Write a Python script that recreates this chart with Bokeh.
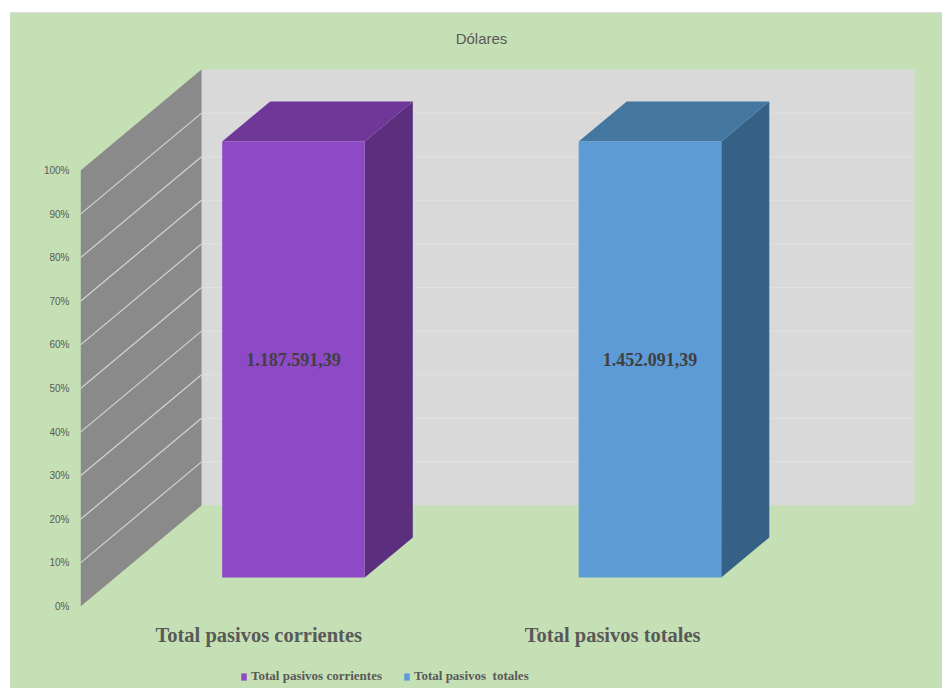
from bokeh.plotting import figure
from bokeh.models import Range1d, FixedTicker, NumeralTickFormatter, Legend, LegendItem
from bokeh.core.properties import value
from bokeh.embed import file_html
from bokeh.resources import INLINE

# ---------------- data ----------------
categories = ["Total pasivos corrientes", "Total pasivos  totales"]
shares = [1.0, 1.0]
amount_labels = ["1.187.591,39", "1.452.091,39"]
tick_values = [0.0, 0.1, 0.2, 0.3, 0.4, 0.5, 0.6, 0.7, 0.8, 0.9, 1.0]
title_text = "Dólares"

# ---------------- style ----------------
front_colors = ["#8e4ac6", "#5c9bd6"]
top_colors = ["#6f3798", "#44779f"]
side_colors = ["#5c2f7e", "#366186"]
GREEN = "#c5e0b4"
BACK_WALL = "#d9d9d9"
SIDE_WALL = "#8a8a8a"
TEXT_GREY = "#595959"

W, H = 932, 676
FRAME_LEFT = 70
PX_X = 356.5          # pixels per category
PX_Y = 436.0          # pixels per 100 %
Y0 = 593.0            # canvas y of the 0 % front line
DX = 121.0 / PX_X     # depth offset (x) in data units
DY = 101.0 / PX_Y     # depth offset (y) in data units
BAR_W = 0.4
D1, D2 = 0.287, 0.684  # bar depth (fraction of floor depth)

n = len(categories)
x_range = Range1d(0, (W - FRAME_LEFT) / PX_X)
y_range = Range1d(-(H - Y0) / PX_Y, Y0 / PX_Y)

p = figure(width=W, height=H, x_range=x_range, y_range=y_range,
           output_backend="svg", toolbar_location=None,
           x_axis_location=None, y_axis_location="left",
           min_border_left=FRAME_LEFT, min_border_right=0,
           min_border_top=0, min_border_bottom=0,
           background_fill_color=None, border_fill_color=None,
           outline_line_color=None, margin=(12, 0, 0, 10))
p.styles = {"background-color": GREEN, "border-top": "1px solid #dcdcdc"}
p.xgrid.visible = False
p.ygrid.visible = False

ax = p.yaxis[0]
ax.ticker = FixedTicker(ticks=tick_values)
ax.formatter = NumeralTickFormatter(format="0%")
ax.axis_line_color = None
ax.major_tick_line_color = None
ax.minor_tick_line_color = None
ax.major_tick_out = 0
ax.major_tick_in = 0
ax.major_label_standoff = 11
ax.major_label_text_font = "Liberation Sans"
ax.major_label_text_font_size = "10px"
ax.major_label_text_color = TEXT_GREY

lo, hi = tick_values[0], tick_values[-1]

# back wall
p.quad(left=[DX], right=[n + DX], bottom=[lo + DY], top=[hi + DY],
       fill_color=BACK_WALL, line_color=None)
p.segment(x0=[DX] * (len(tick_values) - 2), y0=[t + DY for t in tick_values[1:-1]],
          x1=[n + DX] * (len(tick_values) - 2), y1=[t + DY for t in tick_values[1:-1]],
          line_color="#e1e1e1", line_width=1)

# side wall
p.patch(x=[0, 0, DX, DX], y=[lo, hi, hi + DY, lo + DY],
        fill_color=SIDE_WALL, line_color=None)
p.segment(x0=[0] * (len(tick_values) - 2), y0=tick_values[1:-1],
          x1=[DX] * (len(tick_values) - 2), y1=[t + DY for t in tick_values[1:-1]],
          line_color="#d4d4d4", line_width=1.2)

# bars
front_renderers = []
for i in range(n):
    c = i + 0.5
    v = shares[i]
    l1, r1 = c - BAR_W / 2 + D1 * DX, c + BAR_W / 2 + D1 * DX
    l2, r2 = c - BAR_W / 2 + D2 * DX, c + BAR_W / 2 + D2 * DX
    b1, t1 = D1 * DY, v + D1 * DY
    b2, t2 = D2 * DY, v + D2 * DY
    # side face
    p.patch(x=[r1, r2, r2, r1], y=[b1, b2, t2, t1],
            fill_color=side_colors[i], line_color=None)
    # top face
    p.patch(x=[l1, l2, r2, r1], y=[t1, t2, t2, t1],
            fill_color=top_colors[i], line_color=None)
    # front face
    fr = p.quad(left=[l1], right=[r1], bottom=[b1], top=[t1],
                fill_color=front_colors[i], line_color=None)
    front_renderers.append(fr)

# value labels
p.text(x=[i + 0.5 + D1 * DX for i in range(n)],
       y=[shares[i] / 2 + D1 * DY for i in range(n)],
       text=amount_labels, text_font=value("Liberation Serif"),
       text_font_style="bold", text_font_size="18px",
       text_align="center", text_baseline="middle", text_color="#404040")

# category labels
p.text(x=[i + 0.5 for i in range(n)], y=[-28.0 / PX_Y] * n, text=categories,
       text_font=value("Liberation Serif"), text_font_style="bold",
       text_font_size="20.5px", text_align="center", text_baseline="middle",
       text_color=TEXT_GREY)

# title
p.text(x=[(471.0 - FRAME_LEFT) / PX_X], y=[(Y0 - 25.0) / PX_Y], text=[title_text],
       text_font=value("Liberation Sans"), text_font_size="15px",
       text_align="center", text_baseline="middle", text_color=TEXT_GREY)

legend = Legend(items=[LegendItem(label=categories[i], renderers=[front_renderers[i]])
                       for i in range(n)],
                orientation="horizontal", location=(160, 4),
                background_fill_alpha=0, border_line_color=None,
                padding=0, margin=0, spacing=21, label_standoff=4,
                glyph_width=7, glyph_height=9, label_height=18,
                label_text_font="Liberation Serif", label_text_font_style="bold",
                label_text_font_size="13px", label_text_color=TEXT_GREY)
p.add_layout(legend)

open("out.html", "w").write(file_html(p, INLINE))
